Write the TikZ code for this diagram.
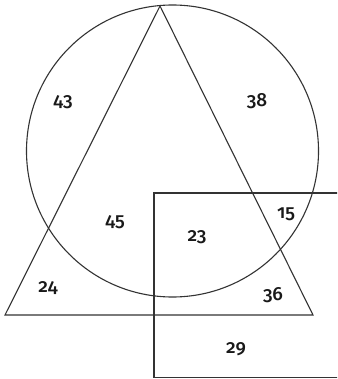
\documentclass[tikz,border=0pt]{standalone}
\usepackage{fontspec}
\setmainfont{Fira Sans}[Numbers=OldStyle, UprightFont=* Medium]
\begin{document}
\begin{tikzpicture}[x=1pt,y=-1pt,
  shape line/.style={draw=black!80, line width=1.1pt},
  num/.style={font=\fontsize{19}{21}\selectfont, text=black!90, inner sep=0pt}]
\useasboundingbox (0,0) rectangle (337,379);
\clip (0,0) rectangle (337,379);
\fill[white] (0,0) rectangle (337,379);
% circle
\draw[shape line] (172.5,151) circle [radius=146pt];
% triangle
\coordinate (apex) at (160,6);
\coordinate (bl) at (5,315);
\coordinate (br) at (313,315);
\draw[shape line] (apex) -- (bl) -- (br) -- cycle;
% rectangle (right side beyond picture)
\draw[shape line] (345,193) -- (154,193) -- (154,377.5) -- (345,377.5);
% numbers
\node[num] (n43) at (63,102) {43};
\node[num] (n38) at (257,101) {38};
\node[num] (n45) at (115,222) {45};
\node[num] (n23) at (197,237) {23};
\node[num] (n15) at (286,214) {15};
\node[num] (n24) at (48,288) {24};
\node[num] (n36) at (273,295) {36};
\node[num] (n29) at (236,349) {29};
\end{tikzpicture}
\end{document}
